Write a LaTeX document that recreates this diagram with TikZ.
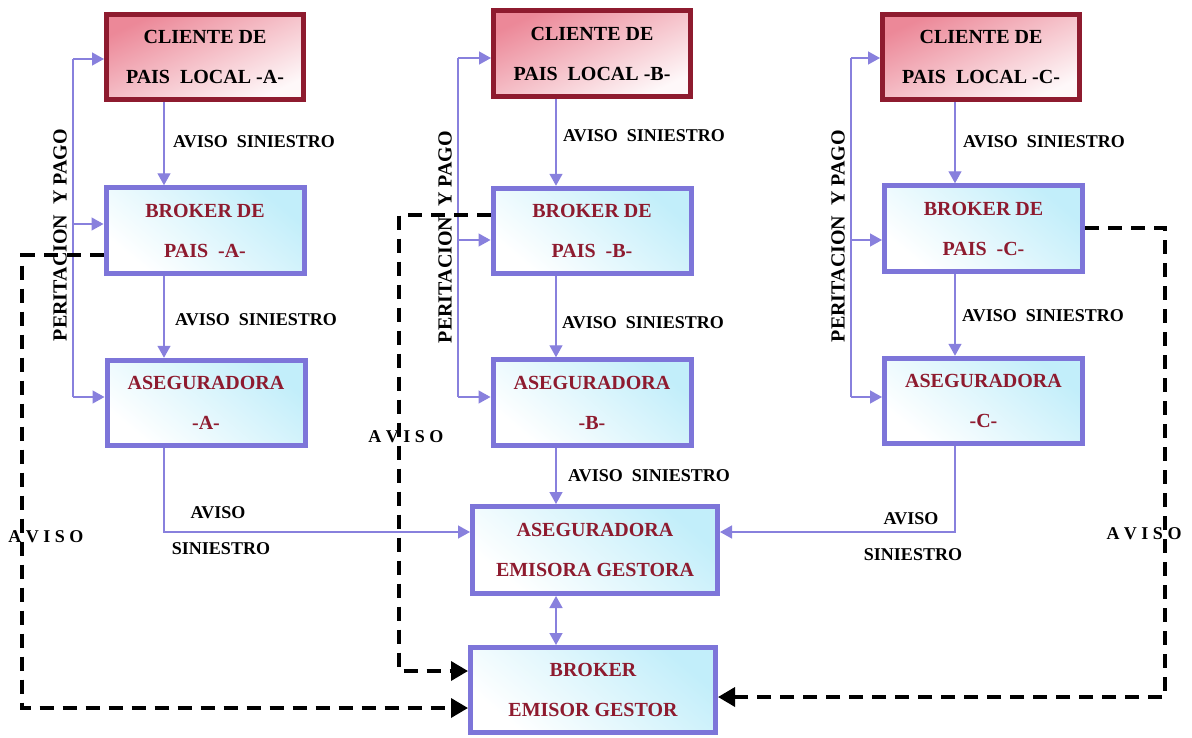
\documentclass[tikz,border=0pt]{standalone}
\usepackage{fontspec}
\setmainfont{Liberation Serif}
\usetikzlibrary{arrows.meta}
\definecolor{cred}{HTML}{8E1B2F}
\definecolor{bblue}{HTML}{7D75D9}
\definecolor{lline}{HTML}{8880DD}
\definecolor{cyanc}{HTML}{C2EEFA}
\definecolor{pinkc}{HTML}{EC8898}
\begin{document}
\begin{tikzpicture}[x=1pt,y=-1pt,
  boxtxt/.style={font=\fontsize{20}{40}\selectfont\bfseries, align=center},
  clibox/.style={boxtxt, draw=cred, line width=5pt, minimum width=197pt, minimum height=85.5pt, inner sep=0pt, top color=pinkc, bottom color=pinkc!6, shading angle=25, text=black},
  blubox/.style={boxtxt, draw=bblue, line width=5pt, minimum width=198pt, minimum height=85.5pt, inner sep=0pt, top color=cyanc, bottom color=white, shading angle=-40, text=cred},
  conn/.style={draw=lline, line width=1.4pt, -{Triangle[length=12pt,width=13pt]}},
  plainln/.style={draw=lline, line width=1.4pt},
  dsh/.style={draw=black, line width=3.5pt, dash pattern=on 14pt off 9pt},
  dsharr/.style={dsh, -{Triangle[length=17pt,width=19pt]}},
  lbl/.style={font=\fontsize{18}{20}\selectfont\bfseries, inner sep=0pt},
  vlbl/.style={font=\fontsize{20}{22}\selectfont\bfseries, inner sep=0pt, rotate=90},
]
\useasboundingbox (0,0) rectangle (1192,737);

% boxes
\node[clibox] (cA) at (205,57) {CLIENTE DE\\PAIS\ \ LOCAL -A-};
\node[blubox] (bA) at (205,230.5) {BROKER DE\\PAIS\ \ -A-};
\node[blubox] (aA) at (206,403) {ASEGURADORA\\-A-};
\node[clibox] (cB) at (592,53.5) {CLIENTE DE\\PAIS\ \ LOCAL -B-};
\node[blubox] (bB) at (592,231) {BROKER DE\\PAIS\ \ -B-};
\node[blubox] (aB) at (592,402.5) {ASEGURADORA\\-B-};
\node[clibox] (cC) at (981,57) {CLIENTE DE\\PAIS\ \ LOCAL -C-};
\node[blubox] (bC) at (983.5,228.5) {BROKER DE\\PAIS\ \ -C-};
\node[blubox] (aC) at (983.5,401) {ASEGURADORA\\-C-};
\node[blubox, minimum width=245pt, minimum height=87pt] (aE) at (595,550) {ASEGURADORA\\EMISORA GESTORA};
\node[blubox, minimum width=245pt, minimum height=85pt] (bE) at (593,690) {BROKER\\EMISOR GESTOR};

% column x positions
\coordinate (xA) at (164,0);
\coordinate (xB) at (556,0);
\coordinate (xC) at (955,0);
\coordinate (eL) at (0,532);

% vertical flows
\draw[conn] (cA.south -| xA) -- (bA.north -| xA);
\draw[conn] (bA.south -| xA) -- (aA.north -| xA);
\draw[conn] (cB.south -| xB) -- (bB.north -| xB);
\draw[conn] (bB.south -| xB) -- (aB.north -| xB);
\draw[conn] (cC.south -| xC) -- (bC.north -| xC);
\draw[conn] (bC.south -| xC) -- (aC.north -| xC);
\draw[conn] (aB.south -| xB) -- (aE.north -| xB);
\draw[conn] (aA.south -| xA) |- (aE.west |- eL);
\draw[conn] (aC.south -| xC) |- (aE.east |- eL);
\draw[draw=lline, line width=1.4pt, {Triangle[length=12pt,width=13pt]}-{Triangle[length=12pt,width=13pt]}] (aE.south -| xB) -- (bE.north -| xB);

% peritacion feedback lines
\coordinate (fA1) at (73,59);  \coordinate (fA2) at (73,224);  \coordinate (fA3) at (73,397);
\coordinate (fB1) at (458,58); \coordinate (fB2) at (458,240); \coordinate (fB3) at (458,397);
\coordinate (fC1) at (851,58); \coordinate (fC2) at (851,240); \coordinate (fC3) at (851,397);
\draw[plainln] (fA1) -- (fA3);
\draw[plainln] (fB1) -- (fB3);
\draw[plainln] (fC1) -- (fC3);
\draw[conn] (fA1) -- (fA1 -| cA.west);
\draw[conn] (fA2) -- (fA2 -| bA.west);
\draw[conn] (fA3) -- (fA3 -| aA.west);
\draw[conn] (fB1) -- (fB1 -| cB.west);
\draw[conn] (fB2) -- (fB2 -| bB.west);
\draw[conn] (fB3) -- (fB3 -| aB.west);
\draw[conn] (fC1) -- (fC1 -| cC.west);
\draw[conn] (fC2) -- (fC2 -| bC.west);
\draw[conn] (fC3) -- (fC3 -| aC.west);

% dashed aviso lines
\coordinate (dA1) at (22,255);  \coordinate (dA2) at (22,708);
\coordinate (dB1) at (399,215); \coordinate (dB2) at (399,671);
\coordinate (dC1) at (1165,228); \coordinate (dC2) at (1165,697);
\draw[dsharr] (bA.west |- dA1) -- (dA1) -- (dA2) -- (bE.west |- dA2);
\draw[dsharr] (bB.west |- dB1) -- (dB1) -- (dB2) -- (bE.west |- dB2);
\draw[dsharr] (bC.east |- dC1) -- (dC1) -- (dC2) -- (bE.east |- dC2);

% labels
\node[lbl, anchor=west] (lA1) at (173,142) {AVISO\ \ SINIESTRO};
\node[lbl, anchor=west] (lA2) at (175,320) {AVISO\ \ SINIESTRO};
\node[lbl, anchor=west] (lB1) at (563,136) {AVISO\ \ SINIESTRO};
\node[lbl, anchor=west] (lB2) at (562,323) {AVISO\ \ SINIESTRO};
\node[lbl, anchor=west] (lB3) at (568,476) {AVISO\ \ SINIESTRO};
\node[lbl, anchor=west] (lC1) at (963,142) {AVISO\ \ SINIESTRO};
\node[lbl, anchor=west] (lC2) at (962,316) {AVISO\ \ SINIESTRO};
\node[lbl] (lA3) at (218,513) {AVISO};
\node[lbl] (lA4) at (221,549) {SINIESTRO};
\node[lbl] (lC3) at (911,519) {AVISO};
\node[lbl] (lC4) at (913,555) {SINIESTRO};
\node[lbl] (avA) at (46,537) {A V I S O};
\node[lbl] (avB) at (406,437) {A V I S O};
\node[lbl] (avC) at (1144,534) {A V I S O};
\node[vlbl] (pA) at (60,235) {PERITACION\ \ Y PAGO};
\node[vlbl] (pB) at (445,237) {PERITACION\ \ Y PAGO};
\node[vlbl] (pC) at (838,236) {PERITACION\ \ Y PAGO};
\end{tikzpicture}
\end{document}
